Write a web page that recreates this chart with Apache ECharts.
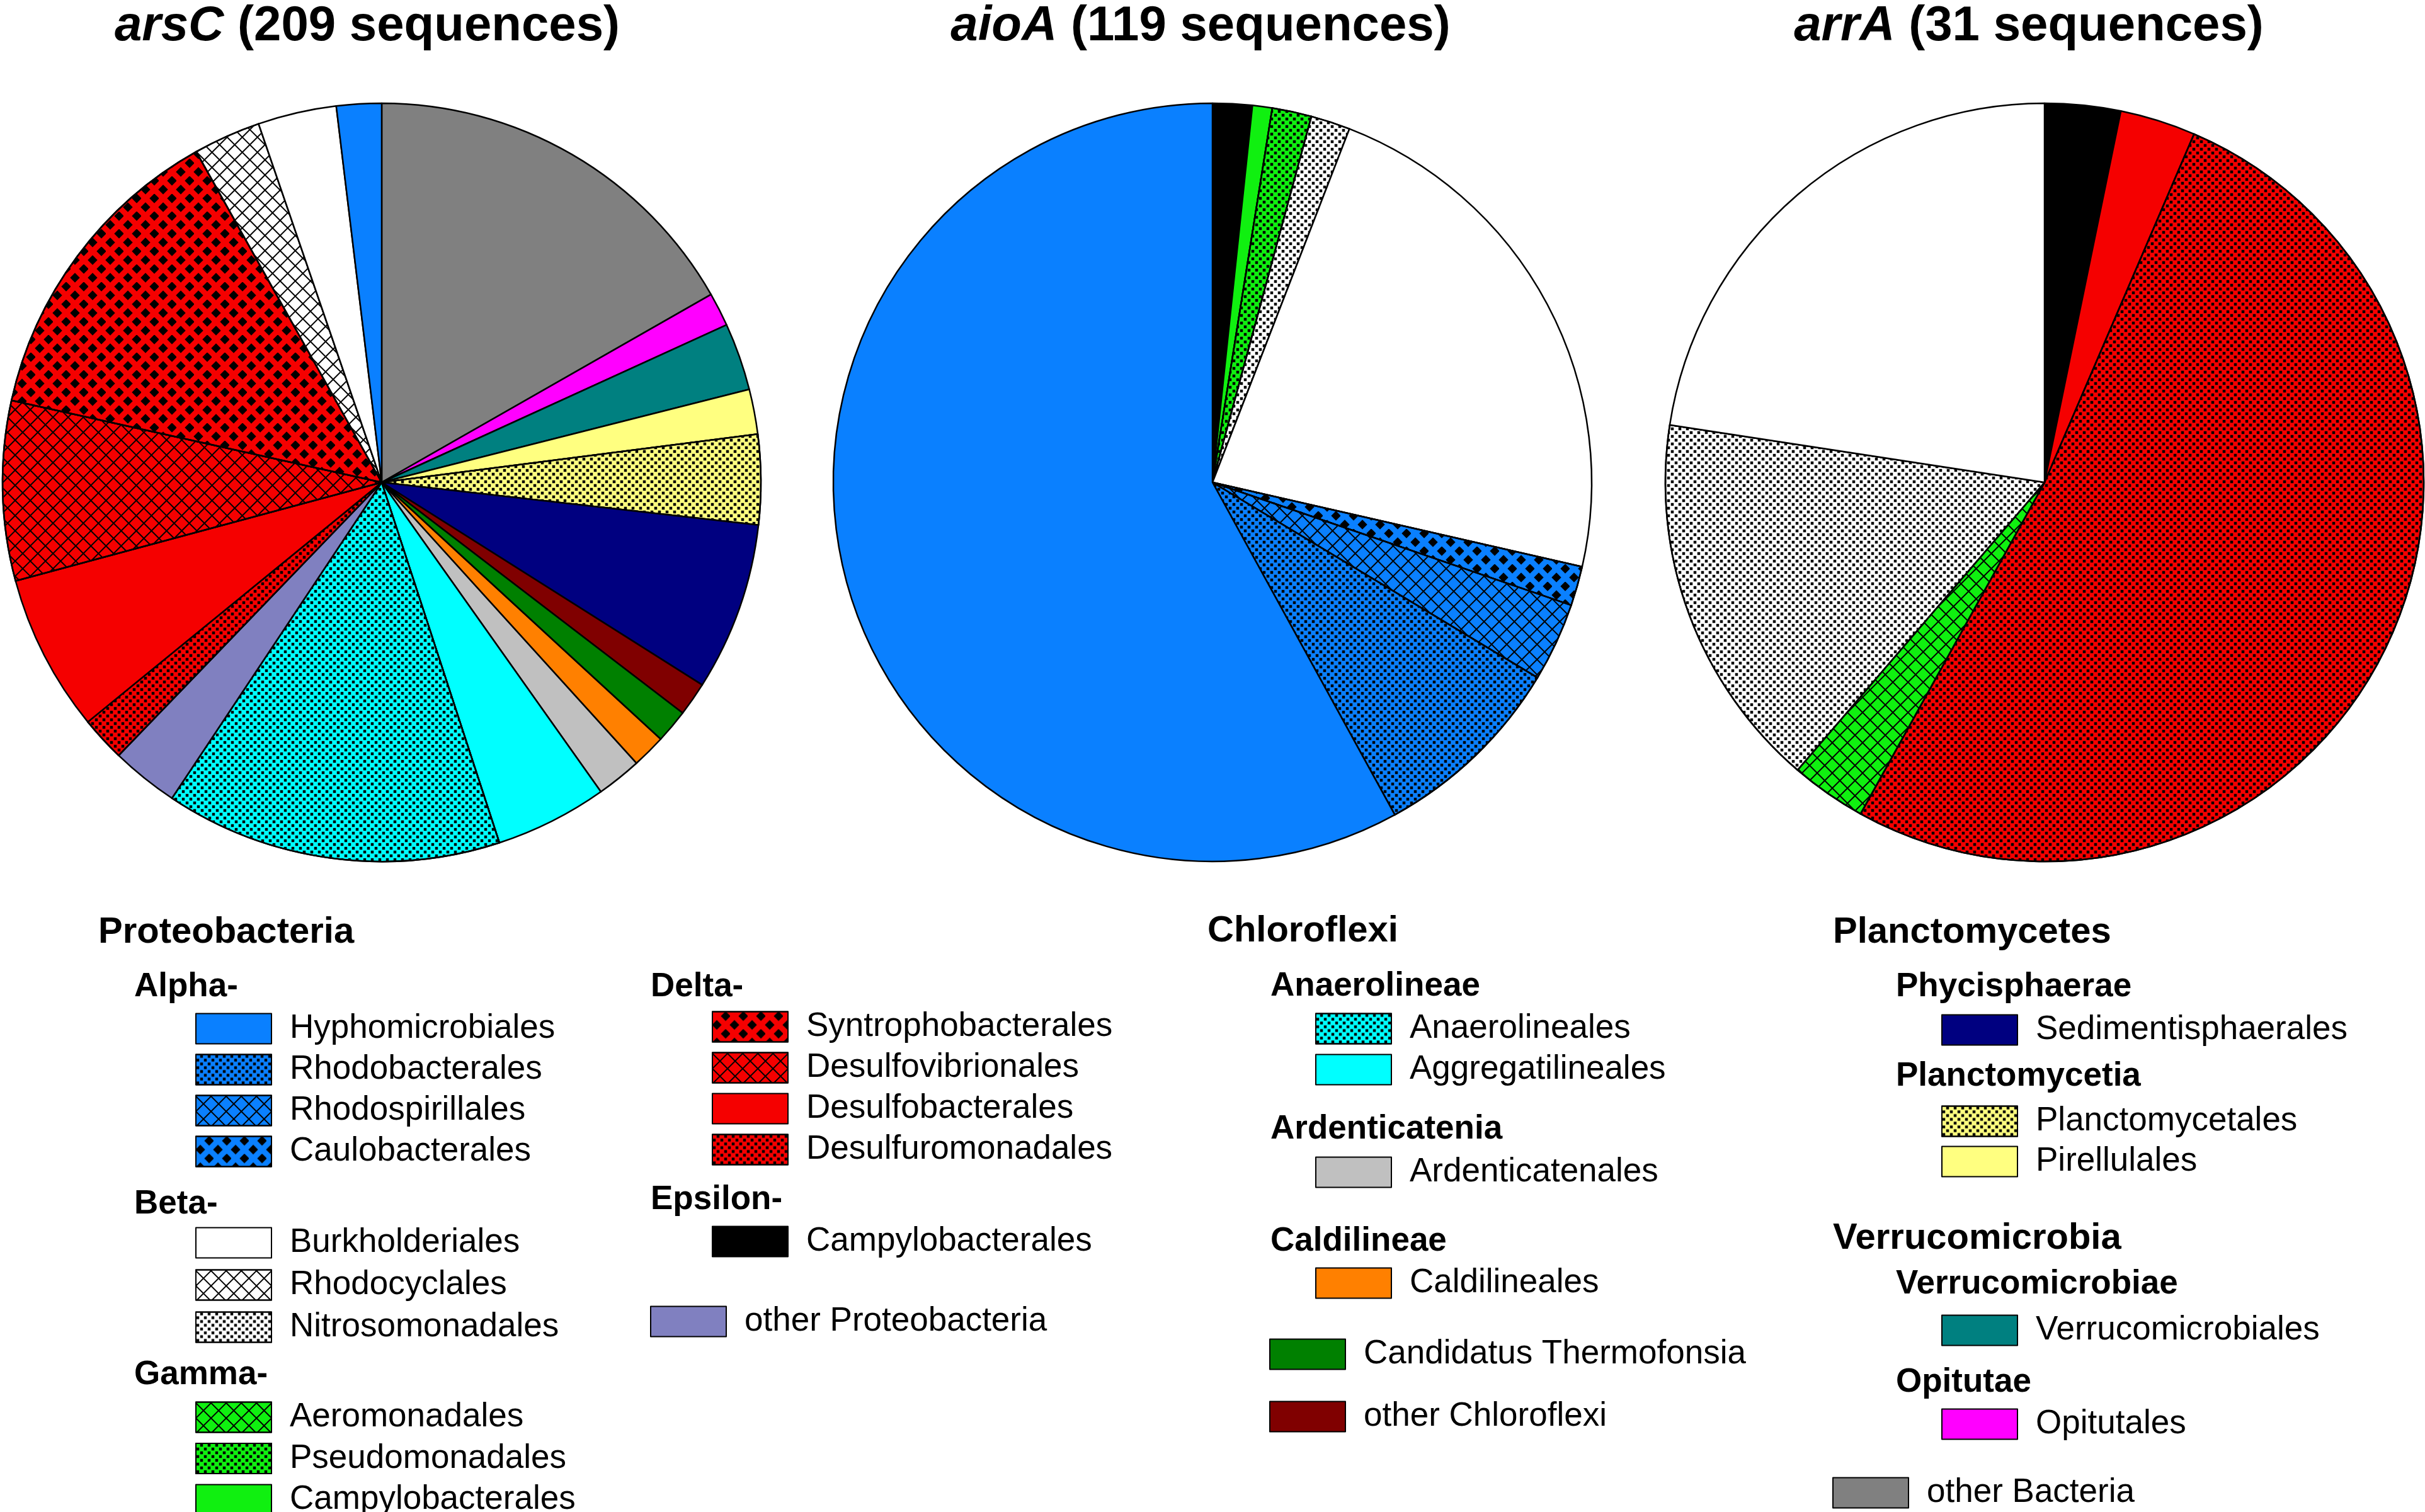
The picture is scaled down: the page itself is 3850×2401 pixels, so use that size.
<!DOCTYPE html>
<html>
<head>
<meta charset="utf-8">
<script src="https://cdn.jsdelivr.net/npm/echarts@6/dist/echarts.min.js"></script>
<style>html,body{margin:0;padding:0;background:#fff}#c{width:3850px;height:2401px}</style>
</head>
<body>
<div id="c"></div>
<script>
// ---------------- DATA ----------------
const genes = ['arsC', 'aioA', 'arrA'];

const arsCNames = ['other Bacteria', 'Opitutales', 'Verrucomicrobiales', 'Pirellulales', 'Planctomycetales',
  'Sedimentisphaerales', 'other Chloroflexi', 'Candidatus Thermofonsia', 'Caldilineales', 'Ardenticatenales',
  'Aggregatilineales', 'Anaerolineales', 'other Proteobacteria', 'Desulfuromonadales', 'Desulfobacterales',
  'Desulfovibrionales', 'Syntrophobacterales', 'Rhodocyclales', 'Burkholderiales', 'Hyphomicrobiales'];
const arsCValues = [35, 3, 6, 4, 8, 15, 3, 3, 3, 4, 10, 30, 6, 4, 14, 16, 28, 6, 7, 4];

const aioANames = ['Campylobacterales', 'Campylobacterales (Gamma)', 'Pseudomonadales', 'Nitrosomonadales',
  'Burkholderiales', 'Caulobacterales', 'Rhodospirillales', 'Rhodobacterales', 'Hyphomicrobiales'];
const aioAValues = [2, 1, 2, 2, 27, 2, 4, 10, 69];

const arrANames = ['Campylobacterales', 'Desulfobacterales', 'Desulfuromonadales', 'Aeromonadales',
  'Nitrosomonadales', 'Burkholderiales'];
const arrAValues = [1, 1, 16, 1, 5, 7];

// legend group headings and members
const headAlpha = 'Alpha-';
const alphaNames = ['Hyphomicrobiales', 'Rhodobacterales', 'Rhodospirillales', 'Caulobacterales'];
const headBeta = 'Beta-';
const betaNames = ['Burkholderiales', 'Rhodocyclales', 'Nitrosomonadales'];
const headGamma = 'Gamma-';
const gammaNames = ['Aeromonadales', 'Pseudomonadales', 'Campylobacterales (Gamma)'];
const headDelta = 'Delta-';
const deltaNames = ['Syntrophobacterales', 'Desulfovibrionales', 'Desulfobacterales', 'Desulfuromonadales'];
const headEpsilon = 'Epsilon-';
const epsilonNames = ['Campylobacterales'];
const otherProteoNames = ['other Proteobacteria'];
const headAnaero = 'Anaerolineae';
const anaeroNames = ['Anaerolineales', 'Aggregatilineales'];
const headArden = 'Ardenticatenia';
const ardenNames = ['Ardenticatenales'];
const headCaldi = 'Caldilineae';
const caldiNames = ['Caldilineales'];
const thermoNames = ['Candidatus Thermofonsia'];
const otherChloroNames = ['other Chloroflexi'];
const headPhyci = 'Phycisphaerae';
const phyciNames = ['Sedimentisphaerales'];
const headPlancti = 'Planctomycetia';
const planctiNames = ['Planctomycetales', 'Pirellulales'];
const headVerrucae = 'Verrucomicrobiae';
const verrucaeNames = ['Verrucomicrobiales'];
const headOpit = 'Opitutae';
const opitNames = ['Opitutales'];
const otherBactNames = ['other Bacteria'];
const phylumHeads = ['Proteobacteria', 'Chloroflexi', 'Planctomycetes', 'Verrucomicrobia'];

// ---------------- STYLES ----------------
const FONT = '"Liberation Sans", Arial, sans-serif';
const DECALS = {
  dots: { symbol: 'rect', symbolSize: 0.75, symbolKeepAspect: false, color: '#000',
          dashArrayX: [[6, 6], [0, 6, 6, 0]], dashArrayY: [6, 0] },
  cross: { symbol: 'rect', symbolSize: 1, symbolKeepAspect: false, color: '#000',
           dashArrayX: [[17, 0], [2, 15]], dashArrayY: [2, 0, 15, 0], rotation: Math.PI / 4 },
  diamond: { symbol: 'diamond', symbolSize: 1.1, symbolKeepAspect: false, color: '#000',
             dashArrayX: [[14, 14], [0, 14, 14, 0]], dashArrayY: [14, 0] }
};
const BLUE = '#0A80FF', RED = '#F50000', LIME = '#10F010', CYAN = '#00FFFF', PALEY = '#FFFF80';
const taxonStyle = {
  'Hyphomicrobiales': [BLUE, null],
  'Rhodobacterales': [BLUE, 'dots'],
  'Rhodospirillales': [BLUE, 'cross'],
  'Caulobacterales': [BLUE, 'diamond'],
  'Burkholderiales': ['#FFFFFF', null],
  'Rhodocyclales': ['#FFFFFF', 'cross'],
  'Nitrosomonadales': ['#FFFFFF', 'dots'],
  'Aeromonadales': [LIME, 'cross'],
  'Pseudomonadales': [LIME, 'dots'],
  'Campylobacterales (Gamma)': [LIME, null],
  'Syntrophobacterales': [RED, 'diamond'],
  'Desulfovibrionales': [RED, 'cross'],
  'Desulfobacterales': [RED, null],
  'Desulfuromonadales': [RED, 'dots'],
  'Campylobacterales': ['#000000', null],
  'other Proteobacteria': ['#8080C0', null],
  'Anaerolineales': [CYAN, 'dots'],
  'Aggregatilineales': [CYAN, null],
  'Ardenticatenales': ['#C0C0C0', null],
  'Caldilineales': ['#FF8000', null],
  'Candidatus Thermofonsia': ['#008000', null],
  'other Chloroflexi': ['#800000', null],
  'Sedimentisphaerales': ['#000080', null],
  'Planctomycetales': [PALEY, 'dots'],
  'Pirellulales': [PALEY, null],
  'Verrucomicrobiales': ['#008080', null],
  'Opitutales': ['#FF00FF', null],
  'other Bacteria': ['#808080', null]
};

function itemStyleFor(name) {
  const s = taxonStyle[name];
  const st = { color: s[0] };
  if (s[1]) st.decal = DECALS[s[1]];
  return st;
}

// ---------------- LAYOUT ----------------
const pieNames = [arsCNames, aioANames, arrANames];
const pieValues = [arsCValues, aioAValues, arrAValues];
const pieCX = [606, 1925, 3246];
const pieCY = 766;
const pieR = 602;
const titleCX = [583, 1906, 3221];

const series = genes.map((g, i) => ({
  type: 'pie',
  name: g,
  center: [pieCX[i], pieCY],
  radius: pieR,
  startAngle: 90,
  clockwise: true,
  silent: true,
  animation: false,
  label: { show: false },
  labelLine: { show: false },
  emphasis: { disabled: true },
  itemStyle: { borderColor: '#000', borderWidth: 2.5 },
  data: pieNames[i].map((n, j) => ({ name: n, value: pieValues[i][j], itemStyle: itemStyleFor(n) }))
}));

const ICON_W = 120, ICON_H = 48;
function mkLegend(names, left, firstCenter, spacing) {
  return {
    orient: 'vertical',
    left: left,
    top: firstCenter - ICON_H / 2,
    width: 1200,
    height: 600,
    padding: 0,
    itemWidth: ICON_W,
    itemHeight: ICON_H,
    itemGap: (spacing || 60) - ICON_H,
    icon: 'rect',
    selectedMode: false,
    data: names,
    formatter: n => n.replace(' (Gamma)', ''),
    itemStyle: { borderColor: '#000', borderWidth: 2 },
    textStyle: { fontSize: 53, fontFamily: FONT, color: '#000', lineHeight: ICON_H, padding: [0, 0, 0, 24] }
  };
}
const legends = [
  mkLegend(alphaNames, 310, 1631, 60),
  mkLegend(betaNames, 310, 1971, 62),
  mkLegend(gammaNames, 310, 2248, 60.5),
  mkLegend(deltaNames, 1130, 1628, 60),
  mkLegend(epsilonNames, 1130, 1969),
  mkLegend(otherProteoNames, 1032, 2096),
  mkLegend(anaeroNames, 2088, 1631, 60),
  mkLegend(ardenNames, 2088, 1859),
  mkLegend(caldiNames, 2088, 2035),
  mkLegend(thermoNames, 2015, 2148),
  mkLegend(otherChloroNames, 2015, 2247),
  mkLegend(phyciNames, 3082, 1633),
  mkLegend(planctiNames, 3082, 1778, 59),
  mkLegend(verrucaeNames, 3082, 2110),
  mkLegend(opitNames, 3082, 2259),
  mkLegend(otherBactNames, 2909, 2368)
];

function heading(text, x, y, size) {
  return { type: 'text', x: x, y: y, silent: true,
    style: { text: text, fontSize: size, fontWeight: 'bold', fontFamily: FONT, fill: '#000',
             align: 'left', verticalAlign: 'middle' } };
}
const graphics = [
  heading(phylumHeads[0], 156, 1481, 58),
  heading(headAlpha, 213, 1567, 53),
  heading(headBeta, 213, 1912, 53),
  heading(headGamma, 213, 2183, 53),
  heading(headDelta, 1033, 1567, 53),
  heading(headEpsilon, 1033, 1905, 53),
  heading(phylumHeads[1], 1917, 1479, 58),
  heading(headAnaero, 2017, 1566, 53),
  heading(headArden, 2017, 1793, 53),
  heading(headCaldi, 2017, 1971, 53),
  heading(phylumHeads[2], 2910, 1481, 58),
  heading(headPhyci, 3010, 1567, 53),
  heading(headPlancti, 3010, 1709, 53),
  heading(phylumHeads[3], 2910, 1967, 58),
  heading(headVerrucae, 3010, 2039, 53),
  heading(headOpit, 3010, 2195, 53)
];
genes.forEach((g, i) => {
  const total = pieValues[i].reduce((a, b) => a + b, 0);
  graphics.push({ type: 'text', x: titleCX[i], y: 42, silent: true,
    style: { text: '{i|' + g + '} (' + total + ' sequences)', fontSize: 78, fontWeight: 'bold',
             fontFamily: FONT, fill: '#000', align: 'center', verticalAlign: 'middle',
             rich: { i: { fontSize: 78, fontWeight: 'bold', fontStyle: 'italic', fontFamily: FONT, fill: '#000' } } } });
});

const chart = echarts.init(document.getElementById('c'), null, { renderer: 'canvas' });
chart.setOption({
  backgroundColor: '#fff',
  animation: false,
  legend: legends,
  series: series,
  graphic: graphics
});
</script>
</body>
</html>
